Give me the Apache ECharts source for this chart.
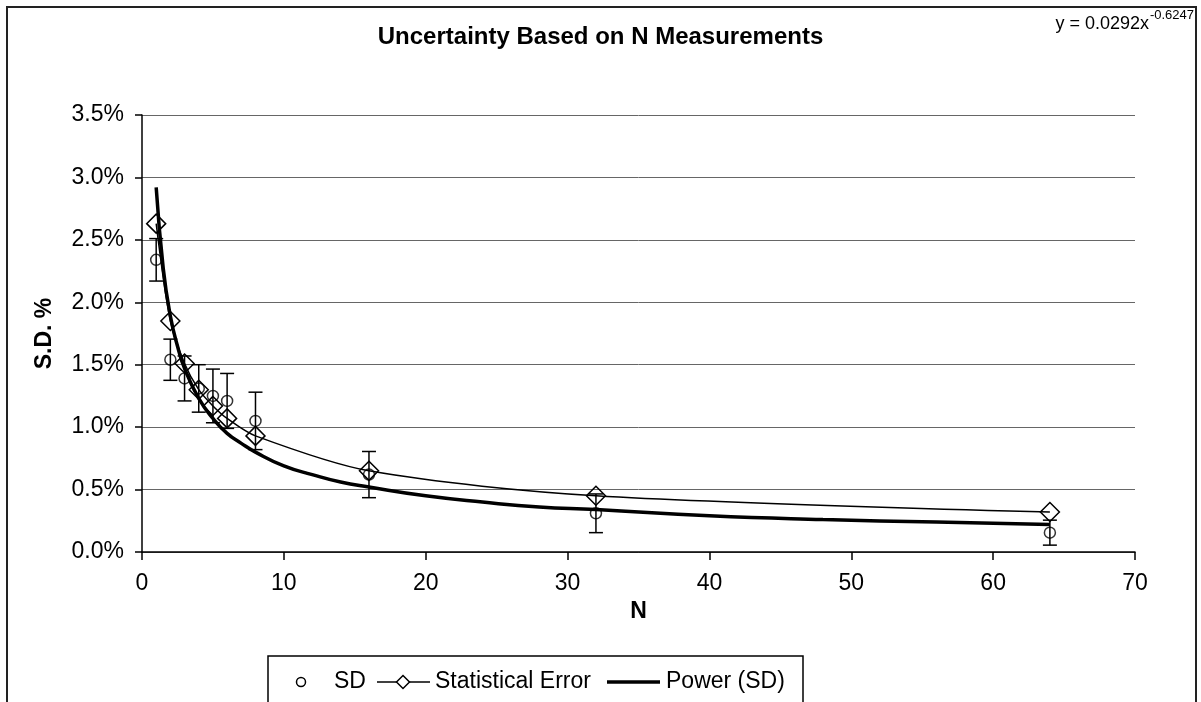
<!DOCTYPE html>
<html>
<head>
<meta charset="utf-8">
<script src="https://cdn.jsdelivr.net/npm/echarts@6/dist/echarts.min.js"></script>
<style>
html,body{margin:0;padding:0;background:#fff;}
#chart{width:1201px;height:702px;}
</style>
</head>
<body>
<div id="chart"></div>
<script>
// ---- data (values in percent) ----
var nValues = [1, 2, 3, 4, 5, 6, 8, 16, 32, 64];
var sdValues = [2.34, 1.54, 1.39, 1.31, 1.25, 1.21, 1.05, 0.62, 0.31, 0.155];
var sdErrors = [0.17, 0.165, 0.18, 0.19, 0.215, 0.22, 0.23, 0.185, 0.155, 0.10];
var statErrValues = [2.63, 1.85, 1.51, 1.30, 1.17, 1.07, 0.93, 0.65, 0.45, 0.32];
var trendN = [1, 1.5, 2, 2.5, 3, 4, 5, 6, 7, 8, 10, 12, 14, 16, 20, 24, 28, 32, 40, 48, 56, 64];
var trendValues = [2.92, 2.27, 1.89, 1.65, 1.47, 1.23, 1.07, 0.95, 0.87, 0.80, 0.69, 0.62, 0.56, 0.52, 0.45, 0.40, 0.36, 0.34, 0.29, 0.26, 0.24, 0.22];
var xTicks = [0, 10, 20, 30, 40, 50, 60, 70];
var yTicks = [0, 0.5, 1.0, 1.5, 2.0, 2.5, 3.0, 3.5];
var titleText = 'Uncertainty Based on N Measurements';
var eqMain = 'y = 0.0292x';
var eqSup = '-0.6247';
var legendNames = ['SD', 'Statistical Error', 'Power (SD)'];

var FONT = '"Liberation Sans", Arial, Helvetica, sans-serif';
var chart = echarts.init(document.getElementById('chart'), null, {renderer: 'canvas'});

var zip = function (a, b) { return a.map(function (v, i) { return [v, b[i]]; }); };

var LY = 682; // legend centre line
var option = {
  animation: false,
  backgroundColor: '#fff',
  textStyle: {fontFamily: FONT, color: '#000'},
  title: {
    text: titleText,
    left: 'center',
    top: 25,
    padding: 0,
    textStyle: {fontFamily: FONT, fontSize: 24, fontWeight: 'bold', color: '#000'}
  },
  grid: {left: 142, right: 66, top: 115, bottom: 150, containLabel: false},
  xAxis: {
    type: 'value',
    min: xTicks[0], max: xTicks[xTicks.length - 1], interval: 10,
    name: 'N', nameLocation: 'middle', nameGap: 35,
    nameTextStyle: {fontFamily: FONT, fontSize: 23, fontWeight: 'bold', color: '#000'},
    axisLine: {show: true, onZero: false, lineStyle: {color: '#000', width: 1.5}},
    axisTick: {show: true, inside: false, length: 8, lineStyle: {color: '#000', width: 1.5}},
    axisLabel: {margin: 20, fontFamily: FONT, fontSize: 23, color: '#000'},
    splitLine: {show: false}
  },
  yAxis: {
    type: 'value',
    min: yTicks[0], max: yTicks[yTicks.length - 1], interval: 0.5,
    name: 'S.D. %', nameLocation: 'middle', nameGap: 86, nameRotate: 90,
    nameTextStyle: {fontFamily: FONT, fontSize: 23, fontWeight: 'bold', color: '#000'},
    axisLine: {show: true, lineStyle: {color: '#000', width: 1.5}},
    axisTick: {show: true, inside: false, length: 7, lineStyle: {color: '#000', width: 1.5}},
    axisLabel: {margin: 18, fontFamily: FONT, fontSize: 23, color: '#000',
      formatter: function (v) { return v.toFixed(1) + '%'; }},
    splitLine: {show: true, lineStyle: {color: '#666', width: 1}}
  },
  series: [
    {
      name: legendNames[2], type: 'line', data: zip(trendN, trendValues),
      smooth: true, showSymbol: false, symbol: 'none',
      lineStyle: {color: '#000', width: 3.5}, z: 3
    },
    {
      name: legendNames[1], type: 'line', data: zip(nValues, statErrValues),
      smooth: 0.3,
      symbol: 'diamond', symbolSize: 19, showAllSymbol: true,
      lineStyle: {color: '#000', width: 1.5},
      itemStyle: {color: 'rgba(255,255,255,0)', borderColor: '#000', borderWidth: 1.5}, z: 4
    },
    {
      name: legendNames[0], type: 'scatter', data: zip(nValues, sdValues),
      symbol: 'circle', symbolSize: 11,
      itemStyle: {color: 'rgba(255,255,255,0)', borderColor: '#000', borderWidth: 1.5}, z: 5
    },
    {
      name: 'SD error', type: 'custom',
      data: nValues.map(function (n, i) { return [n, sdValues[i], sdErrors[i]]; }),
      encode: {x: 0, y: 1},
      renderItem: function (params, api) {
        var x = api.value(0), y = api.value(1), e = api.value(2);
        var top = api.coord([x, y + e]);
        var bot = api.coord([x, y - e]);
        var hw = 7;
        var st = {stroke: '#000', lineWidth: 1.5};
        return {
          type: 'group',
          children: [
            {type: 'line', shape: {x1: top[0], y1: top[1], x2: bot[0], y2: bot[1]}, style: st},
            {type: 'line', shape: {x1: top[0] - hw, y1: top[1], x2: top[0] + hw, y2: top[1]}, style: st},
            {type: 'line', shape: {x1: bot[0] - hw, y1: bot[1], x2: bot[0] + hw, y2: bot[1]}, style: st}
          ]
        };
      },
      z: 6
    }
  ],
  graphic: [
    // outer chart border (bottom edge lies outside the picture)
    {type: 'rect', shape: {x: 7, y: 7, width: 1189, height: 720},
     style: {fill: 'none', stroke: '#222', lineWidth: 2}, silent: true, z: 0},
    // trendline equation
    {type: 'text', x: 1149, y: 24, style: {text: eqMain, fill: '#000', font: '18px ' + FONT,
      textAlign: 'right', textVerticalAlign: 'middle'}},
    {type: 'text', x: 1194, y: 15, style: {text: eqSup, fill: '#000', font: '13px ' + FONT,
      textAlign: 'right', textVerticalAlign: 'middle'}},
    // legend box
    {type: 'group', children: [
      {type: 'rect', shape: {x: 268, y: 656, width: 535, height: 50},
       style: {fill: '#fff', stroke: '#000', lineWidth: 1.5}},
      {type: 'circle', shape: {cx: 301, cy: LY, r: 4.5},
       style: {fill: 'none', stroke: '#000', lineWidth: 1.5}},
      {type: 'text', x: 334, y: LY, style: {text: legendNames[0], fill: '#000', font: '23px ' + FONT,
        textAlign: 'left', textVerticalAlign: 'middle'}},
      {type: 'line', shape: {x1: 377, y1: LY, x2: 430, y2: LY}, style: {stroke: '#000', lineWidth: 1.5}},
      {type: 'polygon', shape: {points: [[403, LY - 6.5], [409.5, LY], [403, LY + 6.5], [396.5, LY]]},
       style: {fill: '#fff', stroke: '#000', lineWidth: 1.5}},
      {type: 'text', x: 435, y: LY, style: {text: legendNames[1], fill: '#000', font: '23px ' + FONT,
        textAlign: 'left', textVerticalAlign: 'middle'}},
      {type: 'line', shape: {x1: 607, y1: LY, x2: 660, y2: LY}, style: {stroke: '#000', lineWidth: 3.5}},
      {type: 'text', x: 666, y: LY, style: {text: legendNames[2], fill: '#000', font: '23px ' + FONT,
        textAlign: 'left', textVerticalAlign: 'middle'}}
    ]}
  ]
};
chart.setOption(option);
</script>
</body>
</html>
